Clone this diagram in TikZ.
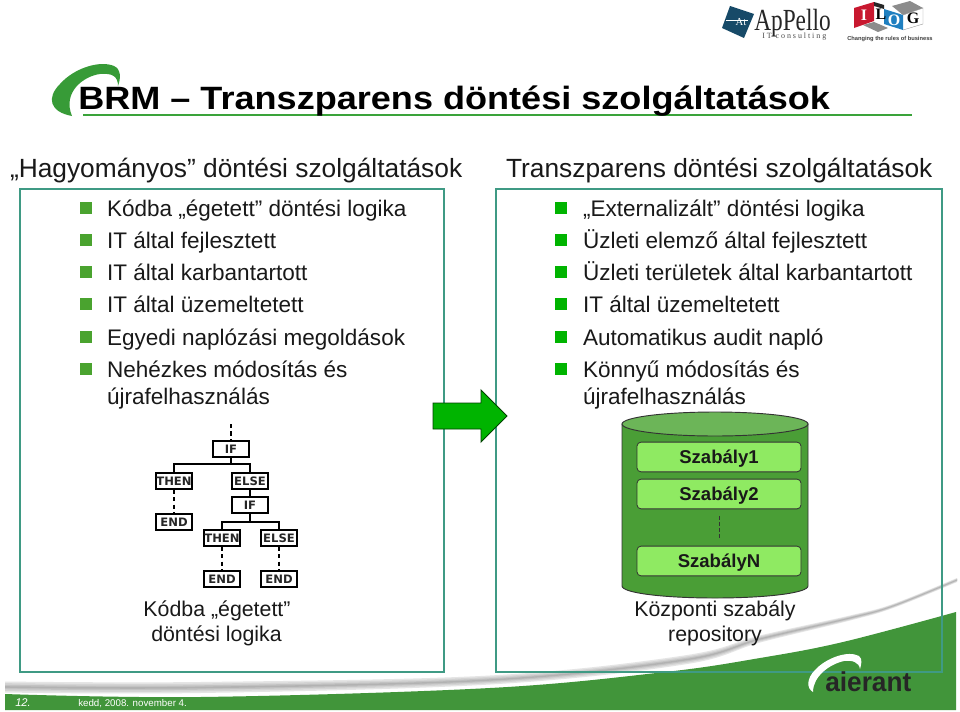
\documentclass[tikz,border=0pt]{standalone}
\usepackage{fontspec}
\setmainfont{Liberation Sans}
\newfontfamily\treefont{DejaVu Sans}
\newfontfamily\logoserif{Liberation Serif}
\usetikzlibrary{calc}
\definecolor{teal1}{HTML}{3F9A84}
\definecolor{band}{HTML}{41953A}
\definecolor{bulL}{HTML}{4AA32F}
\definecolor{bulR}{HTML}{00B400}
\definecolor{cyl}{HTML}{4A9E36}
\definecolor{cyltop}{HTML}{6CB558}
\definecolor{rule1}{HTML}{8FEA62}
\definecolor{titlegreen}{HTML}{3AA33A}
\definecolor{appblue}{HTML}{174A68}
\definecolor{ilogred}{HTML}{C8182F}
\definecolor{ilogblue}{HTML}{1F7FC0}
\tikzset{
  x=0.75pt,y=-0.75pt,
  txt/.style={anchor=base west,inner sep=0pt,outer sep=0pt,font=\fontsize{16.9pt}{19pt}\selectfont,text=black!90},
  head/.style={anchor=base west,inner sep=0pt,outer sep=0pt,font=\fontsize{19.75pt}{22pt}\selectfont,text=black!90},
  ctr/.style={anchor=base,inner sep=0pt,outer sep=0pt,font=\fontsize{16pt}{18pt}\selectfont,text=black!90},
  panel/.style={draw=teal1,line width=0.9pt},
  bulL/.style={fill=bulL,minimum size=9pt,inner sep=0pt,anchor=center},
  bulR/.style={fill=bulR,minimum size=9pt,inner sep=0pt,anchor=center},
  treebox/.style={draw=black,line width=1.4pt,fill=white,minimum width=27.5pt,minimum height=11.6pt,inner sep=0pt,font=\treefont\bfseries\fontsize{8.7pt}{10pt}\selectfont,text=black!85},
  treeline/.style={draw=black,line width=1.3pt},
  treedash/.style={draw=black,line width=1.4pt,dash pattern=on 3.2pt off 2.4pt},
  rulebox/.style={draw=black!80,line width=0.6pt,fill=rule1,rounded corners=3pt,minimum width=123pt,minimum height=22.3pt,inner sep=0pt,text depth=0pt,font=\bfseries\fontsize{13.9pt}{15pt}\selectfont,text=black!90},
  ilogl/.style={inner sep=0pt,font=\logoserif\bfseries\fontsize{12pt}{12pt}\selectfont},
}
\begin{document}
\begin{tikzpicture}
\useasboundingbox (0,0) rectangle (960,711);
\fill[white] (0,0) rectangle (960,711);
% gray swoosh (nested layers for the soft edge)
\foreach \t/\g in {1/10,0.7/17,0.4/24,0.15/30}{
  \fill[black!\g] plot[smooth,tension=0.6] coordinates {(5,{687-5.5*\t}) (200,{687.5-5.5*\t}) (490,{680-4.5*\t}) (684,{660-4.5*\t}) (760,{639-3.5*\t}) (850,{618-2.5*\t}) (893,{606-2*\t}) (957,{580-2*\t})}
   -- plot[smooth,tension=0.6] coordinates {(957,{580+2*\t}) (893,{606+2*\t}) (850,{618+2.5*\t}) (760,{639+3.5*\t}) (684,{660+4.5*\t}) (490,{680+4.5*\t}) (200,{687.5+5.5*\t}) (5,{687+5.5*\t})} -- cycle;
}
% green band
\fill[band] plot[smooth,tension=0.6] coordinates {(5,694) (200,697) (490,688) (665,672) (760,658) (843,642) (956,612)} -- (956,710) -- (5,710) -- cycle;
% footer text
\node[anchor=base west,inner sep=0pt,text=white,font=\itshape\fontsize{8.4pt}{10pt}\selectfont] (pg) at (15,706) {12.};
\node[anchor=base west,inner sep=0pt,text=white,font=\fontsize{7.3pt}{9pt}\selectfont] (dt) at (78,706) {kedd, 2008. november 4.};
% logo swoosh
\fill[titlegreen!95!black] (72,116) .. controls (50,112) and (46,98) .. (60,84)
   .. controls (74,68) and (100,60) .. (114,66) .. controls (121,69) and (121,78) .. (118,86)
   .. controls (118,76) and (112,73) .. (100,74) .. controls (84,76) and (62,92) .. (72,116) -- cycle;
% title
\draw[titlegreen,line width=1.6pt] (83,115) -- (912,115);
\node[anchor=base west,inner sep=0pt,font=\bfseries\fontsize{24.2pt}{28pt}\selectfont,text=black] (title) at (78,109) {\addfontfeatures{FakeStretch=1.118}BRM – Transzparens döntési szolgáltatások};
% headers
\node[head] (hl) at (10,177) {„Hagyományos” döntési szolgáltatások};
\node[head] (hr) at (506,177) {Transzparens döntési szolgáltatások};
% panels
\draw[panel] (20,189) rectangle (444,672);
\draw[panel] (496,189) rectangle (942,672);
% left list
\foreach \n/\y/\t in {a/216/Kódba „égetett” döntési logika,b/248/IT által fejlesztett,c/280/IT által karbantartott,d/312/IT által üzemeltetett,e/345/Egyedi naplózási megoldások,f/377/Nehézkes módosítás és,g/404/újrafelhasználás}{
  \node[txt] (l\n) at (107,\y) {\t};
}
\foreach \n/\y in {a/208,b/240,c/272,d/304,e/337,f/369}{
  \node[bulL] (bl\n) at (86,\y) {};
}
% right list
\foreach \n/\y/\t in {a/216/„Externalizált” döntési logika,b/248/Üzleti elemző által fejlesztett,c/280/Üzleti területek által karbantartott,d/312/IT által üzemeltetett,e/345/Automatikus audit napló,f/377/Könnyű módosítás és,g/404/újrafelhasználás}{
  \node[txt] (r\n) at (583,\y) {\t};
}
\foreach \n/\y in {a/208,b/240,c/272,d/304,e/337,f/369}{
  \node[bulR] (br\n) at (561,\y) {};
}
% tree
\coordinate (top) at (231,424);
\node[treebox] (if1) at (231,449) {IF};
\node[treebox] (then1) at (174,481) {THEN};
\node[treebox] (else1) at (250,481) {ELSE};
\node[treebox] (if2) at (250,505) {IF};
\node[treebox] (end1) at (174,522) {END};
\node[treebox] (then2) at (222,538) {THEN};
\node[treebox] (else2) at (279,538) {ELSE};
\node[treebox] (end2) at (222,579) {END};
\node[treebox] (end3) at (279,579) {END};
\coordinate (j1) at (231,464);
\coordinate (j2) at (250,522);
\draw[treedash] (top) -- (if1.north);
\draw[treeline] (if1.south) -- (j1);
\draw[treeline] (then1.north) |- (j1) -| (else1.north);
\draw[treeline] (else1.south) -- (if2.north);
\draw[treeline] (if2.south) -- (j2);
\draw[treeline] (then2.north) |- (j2) -| (else2.north);
\draw[treedash] (then1.south) -- (end1.north);
\draw[treedash] (then2.south) -- (end2.north);
\draw[treedash] (else2.south) -- (end3.north);
\node[ctr] (c1) at (217,616) {Kódba „égetett”};
\node[ctr] (c2) at (216.5,641) {döntési logika};
% arrow
\draw[fill=bulR,draw=black!75!green,line width=0.7pt] (433,403) -- (481,403) -- (481,390) -- (507,416) -- (481,442) -- (481,429) -- (433,429) -- cycle;
% cylinder
\fill[cyl,draw=black!80,line width=0.7pt] (622,424) -- (622,586) .. controls (622,593) and (664,598) .. (715,598) .. controls (766,598) and (808,593) .. (808,586) -- (808,424) -- cycle;
\draw[fill=cyltop,draw=black!80,line width=0.7pt] (715,424) ellipse [x radius=93,y radius=12];
\node[rulebox] (s1) at (719,457) {Szabály1};
\node[rulebox] (s2) at (719,494) {Szabály2};
\node[rulebox] (sn) at (719,561) {SzabályN};
\draw[black!80,line width=0.6pt,dash pattern=on 3pt off 1.5pt,shorten <=5pt,shorten >=4.5pt] (s2.south) -- (sn.north);
\node[ctr] (c3) at (715,616) {Központi szabály};
\node[ctr] (c4) at (715,641) {repository};
% ApPello logo
\fill[appblue] (730,6) -- (754,14) -- (744,38) -- (722,28) -- cycle;
\draw[white,line width=0.3pt] (726,20) -- (748,20);
\node[anchor=base,inner sep=0pt,text=white,font=\logoserif\fontsize{8pt}{9pt}\selectfont] (at) at (741,25) {At};
\node[anchor=base west,inner sep=0pt,font=\logoserif\fontsize{23pt}{24pt}\selectfont,text=black!85] (app) at (754,30) {\addfontfeatures{FakeStretch=0.76}ApPello};
\node[anchor=base west,inner sep=0pt,font=\logoserif\fontsize{6pt}{7pt}\selectfont,text=black!70] (cons) at (762,38) {\addfontfeatures{LetterSpace=24}IT consulting};
% ILOG logo
\fill[black!45] (892,6) -- (910,1) -- (923,8) -- (903,15) -- cycle;
\fill[black!45] (863,25) -- (874,22) -- (888,28) -- (878,32) -- cycle;
\fill[ilogred] (854,8) -- (874,2) -- (874,21) -- (854,28) -- cycle;
\fill[black!85] (874,2) -- (884,5) -- (884,9) -- (874,6) -- cycle;
\fill[ilogblue] (884,9) -- (903,15) -- (903,30) -- (884,24) -- cycle;
\draw[black!40,line width=0.3pt] (903,15) -- (923,8) -- (923,24) -- (903,30);
\node[ilogl,text=white] (il) at (864,15) {I};
\node[ilogl,text=black] (ll) at (881,14) {L};
\node[ilogl,text=white] (ol) at (894,20) {O};
\node[ilogl,text=black] (gl) at (913,18) {G};
\node[anchor=base west,inner sep=0pt,font=\bfseries\fontsize{4.3pt}{5pt}\selectfont,text=black!75] (tag) at (847,40) {Changing the rules of business};
% aierant logo
\fill[white] (813,692) .. controls (806,688) and (807,678) .. (815,670) .. controls (826,658) and (848,650) .. (859,656)
  .. controls (863,659) and (861,665) .. (860,669) .. controls (859,662) and (852,660) .. (844,661)
  .. controls (830,664) and (813,676) .. (813,692) -- cycle;
\node[anchor=base west,inner sep=0pt,font=\bfseries\fontsize{20.5pt}{21pt}\selectfont,text=black!85] (aie) at (825,691.5) {\addfontfeatures{FakeStretch=0.96}aierant};
\end{tikzpicture}
\end{document}
